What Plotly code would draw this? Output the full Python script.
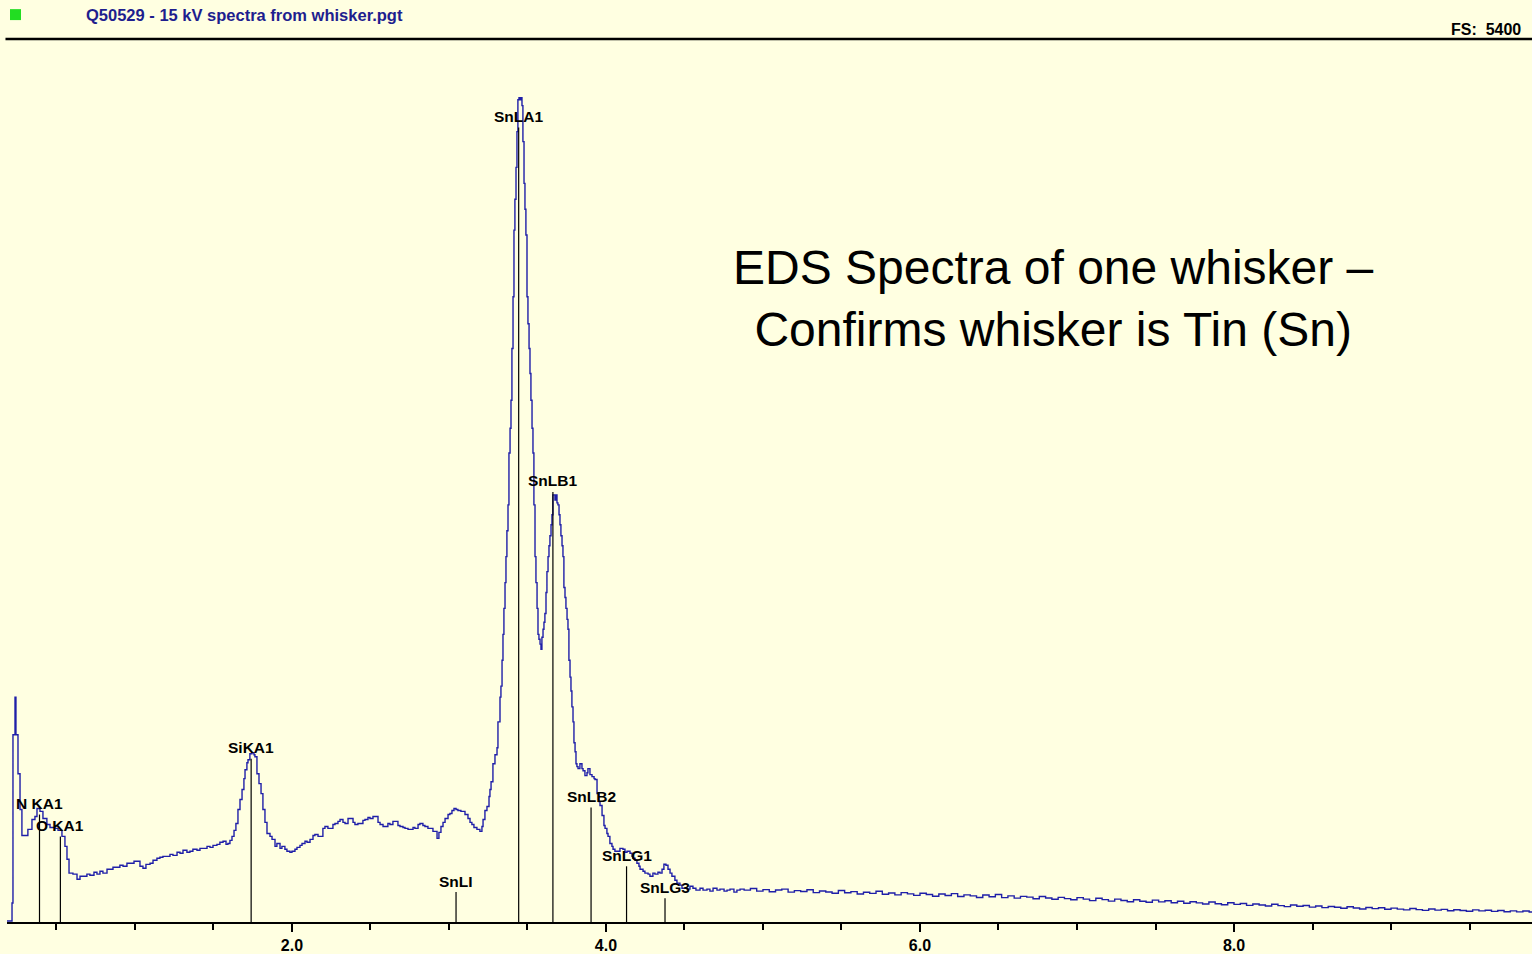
import plotly.graph_objects as go

# ---- spectrum (energy in keV, counts) ----
energy_kev = [
    0.185, 0.217, 0.223, 0.236, 0.242, 0.255, 0.268, 0.280, 0.318, 0.344,
    0.363, 0.376, 0.395, 0.414, 0.439, 0.459, 0.490, 0.510, 0.535, 0.554,
    0.567, 0.580, 0.605, 0.631, 0.650, 0.669, 0.694, 0.713, 0.739, 0.758,
    0.777, 0.796, 0.822, 0.841, 0.860, 0.885, 0.904, 0.924, 0.949, 0.968,
    0.994, 1.013, 1.032, 1.051, 1.070, 1.096, 1.115, 1.140, 1.159, 1.178,
    1.204, 1.223, 1.242, 1.268, 1.287, 1.306, 1.331, 1.350, 1.369, 1.395,
    1.414, 1.433, 1.459, 1.478, 1.497, 1.522, 1.541, 1.561, 1.580, 1.592,
    1.605, 1.618, 1.631, 1.643, 1.656, 1.669, 1.682, 1.694, 1.701, 1.713,
    1.720, 1.732, 1.745, 1.758, 1.764, 1.777, 1.790, 1.803, 1.815, 1.828,
    1.841, 1.860, 1.873, 1.892, 1.904, 1.924, 1.936, 1.955, 1.968, 1.987,
    2.000, 2.019, 2.032, 2.051, 2.064, 2.083, 2.096, 2.115, 2.134, 2.146,
    2.166, 2.178, 2.197, 2.210, 2.229, 2.242, 2.261, 2.274, 2.293, 2.306,
    2.325, 2.338, 2.357, 2.369, 2.389, 2.401, 2.420, 2.433, 2.452, 2.465,
    2.484, 2.497, 2.516, 2.529, 2.548, 2.561, 2.580, 2.592, 2.611, 2.624,
    2.643, 2.656, 2.675, 2.688, 2.707, 2.720, 2.739, 2.752, 2.771, 2.783,
    2.803, 2.815, 2.834, 2.847, 2.866, 2.879, 2.898, 2.911, 2.924, 2.936,
    2.949, 2.962, 2.975, 2.994, 3.006, 3.019, 3.032, 3.045, 3.057, 3.076,
    3.089, 3.102, 3.121, 3.134, 3.146, 3.159, 3.178, 3.197, 3.210, 3.217,
    3.229, 3.242, 3.255, 3.261, 3.268, 3.280, 3.293, 3.306, 3.312, 3.325,
    3.331, 3.338, 3.344, 3.350, 3.357, 3.363, 3.369, 3.376, 3.382, 3.389,
    3.395, 3.401, 3.408, 3.414, 3.420, 3.427, 3.433, 3.439, 3.446, 3.452,
    3.459, 3.465, 3.471, 3.478, 3.484, 3.490, 3.497, 3.503, 3.510, 3.516,
    3.522, 3.529, 3.535, 3.541, 3.548, 3.554, 3.561, 3.567, 3.573, 3.580,
    3.586, 3.592, 3.599, 3.605, 3.611, 3.618, 3.624, 3.631, 3.637, 3.643,
    3.650, 3.656, 3.662, 3.669, 3.675, 3.682, 3.688, 3.694, 3.701, 3.707,
    3.713, 3.720, 3.726, 3.732, 3.739, 3.745, 3.752, 3.758, 3.764, 3.771,
    3.777, 3.783, 3.790, 3.796, 3.803, 3.809, 3.815, 3.822, 3.834, 3.847,
    3.854, 3.866, 3.879, 3.885, 3.898, 3.911, 3.924, 3.930, 3.943, 3.955,
    3.962, 3.975, 3.987, 3.994, 4.006, 4.013, 4.025, 4.038, 4.045, 4.057,
    4.076, 4.089, 4.108, 4.121, 4.134, 4.153, 4.166, 4.172, 4.185, 4.197,
    4.210, 4.217, 4.236, 4.248, 4.268, 4.280, 4.299, 4.312, 4.331, 4.344,
    4.357, 4.369, 4.382, 4.395, 4.408, 4.420, 4.439, 4.452, 4.471, 4.484,
    4.503, 4.516, 4.535, 4.554, 4.573, 4.599, 4.618, 4.643, 4.662, 4.682,
    4.707, 4.726, 4.752, 4.771, 4.790, 4.815, 4.834, 4.854,
]
counts = [
    6, 116, 1146, 1377, 1146, 908, 689, 530, 567, 628,
    646, 695, 677, 634, 597, 579, 573, 561, 524, 463,
    384, 299, 293, 262, 280, 280, 293, 286, 305, 293,
    311, 299, 323, 323, 335, 335, 347, 341, 360, 360,
    372, 372, 341, 329, 353, 360, 378, 390, 396, 402,
    402, 414, 408, 427, 421, 439, 427, 433, 445, 439,
    451, 451, 463, 457, 469, 475, 488, 494, 475, 481,
    500, 524, 561, 603, 689, 750, 811, 878, 932, 975,
    993, 1030, 1036, 1024, 1012, 908, 847, 786, 689, 610,
    542, 524, 506, 463, 481, 451, 463, 445, 433, 427,
    433, 445, 457, 469, 481, 494, 488, 506, 530, 536,
    524, 524, 573, 585, 573, 573, 597, 603, 616, 628,
    610, 603, 634, 634, 610, 597, 603, 603, 622, 628,
    640, 634, 646, 646, 610, 597, 585, 585, 603, 597,
    616, 616, 591, 585, 579, 573, 567, 567, 579, 573,
    597, 603, 591, 585, 573, 573, 555, 555, 512, 549,
    585, 610, 634, 658, 664, 683, 695, 689, 683, 677,
    677, 658, 634, 610, 597, 579, 567, 555, 585, 628,
    683, 707, 768, 811, 859, 969, 1024, 1067, 1225, 1377,
    1444, 1603, 1761, 1920, 2078, 2237, 2395, 2554, 2871, 3023,
    3194, 3511, 3828, 4236, 4425, 4620, 4839, 5034, 5047, 5034,
    5047, 4998, 4778, 4522, 4364, 4206, 3828, 3663, 3511, 3358,
    3194, 3023, 2871, 2554, 2237, 2078, 1920, 1761, 1731, 1701,
    1670, 1743, 1792, 1835, 1889, 2017, 2145, 2237, 2304, 2365,
    2432, 2493, 2615, 2615, 2584, 2615, 2566, 2554, 2493, 2432,
    2365, 2304, 2237, 2048, 1987, 1920, 1853, 1792, 1603, 1499,
    1414, 1317, 1225, 1097, 1042, 969, 951, 939, 969, 939,
    926, 896, 914, 939, 902, 890, 878, 872, 786, 737,
    713, 652, 591, 573, 542, 524, 481, 463, 445, 433,
    433, 451, 445, 427, 433, 421, 402, 390, 378, 360,
    341, 323, 311, 299, 293, 280, 299, 293, 305, 299,
    323, 354, 347, 323, 299, 280, 256, 238, 226, 207,
    207, 201, 219, 207, 195, 207, 195, 201, 189, 207,
    195, 201, 189, 195, 201, 183, 195, 201,
]
tail_energy_kev = [
    4.88, 4.92, 4.96, 5.00, 5.04, 5.08, 5.12, 5.16, 5.20, 5.24,
    5.28, 5.32, 5.36, 5.40, 5.44, 5.48, 5.52, 5.56, 5.60, 5.64,
    5.68, 5.72, 5.76, 5.80, 5.84, 5.88, 5.92, 5.96, 6.00, 6.04,
    6.08, 6.12, 6.16, 6.20, 6.24, 6.28, 6.32, 6.36, 6.40, 6.44,
    6.48, 6.52, 6.56, 6.60, 6.64, 6.68, 6.72, 6.76, 6.80, 6.84,
    6.88, 6.92, 6.96, 7.00, 7.04, 7.08, 7.12, 7.16, 7.20, 7.24,
    7.28, 7.32, 7.36, 7.40, 7.44, 7.48, 7.52, 7.56, 7.60, 7.64,
    7.68, 7.72, 7.76, 7.80, 7.84, 7.88, 7.92, 7.96, 8.00, 8.04,
    8.08, 8.12, 8.16, 8.20, 8.24, 8.28, 8.32, 8.36, 8.40, 8.44,
    8.48, 8.52, 8.56, 8.60, 8.64, 8.68, 8.72, 8.76, 8.80, 8.84,
    8.88, 8.92, 8.96, 9.00, 9.04, 9.08, 9.12, 9.16, 9.20, 9.24,
    9.28, 9.32, 9.36, 9.40, 9.44, 9.48, 9.52, 9.56, 9.60, 9.64,
    9.68, 9.72, 9.76, 9.80, 9.84, 9.88, 9.92,
]
tail_counts = [
    195, 205, 189, 198, 185, 196, 201, 183, 192, 187,
    197, 180, 190, 184, 176, 193, 179, 186, 171, 182,
    175, 188, 170, 178, 166, 180, 172, 163, 176, 168,
    158, 171, 162, 174, 156, 166, 160, 150, 165, 155,
    168, 149, 160, 146, 157, 152, 142, 156, 147, 139,
    151, 143, 136, 149, 140, 131, 145, 137, 128, 140,
    132, 124, 136, 127, 121, 134, 123, 130, 118, 127,
    115, 124, 117, 110, 122, 112, 106, 118, 108, 113,
    102, 110, 104, 98, 109, 100, 94, 104, 96, 101,
    91, 98, 88, 95, 90, 84, 93, 86, 80, 89,
    82, 87, 78, 85, 79, 74, 83, 76, 71, 80,
    73, 77, 69, 75, 70, 66, 74, 68, 72, 65,
    70, 63, 68, 62, 67, 61, 65,
]

# ---- element line markers ----
line_names = ["N KA1", "O KA1", "SiKA1", "SnLI", "SnLA1", "SnLB1", "SnLB2", "SnLG1", "SnLG3"]
line_energy_kev = [0.392, 0.525, 1.740, 3.045, 3.444, 3.662, 3.905, 4.131, 4.376]
line_heights = [658, 524, 1000, 183, 4864, 2633, 701, 341, 146]

x_range = [0.185, 9.898]
full_scale = 5400
file_title = "Q50529 - 15 kV spectra from whisker.pgt"
fs_text = "FS:\u00a0\u00a05400"
note_text = "EDS Spectra of one whisker \u2013<br>Confirms whisker is Tin (Sn)"
tick_vals = [2, 4, 6, 8]
tick_text = ["2.0", "4.0", "6.0", "8.0"]

BG = "#FFFFE1"
W, H = 1532, 954
ML, MR, MT, MB = 7, 0, 40, 28
PW = W - ML - MR
PH = H - MT - MB


def px_to_paper_x(px):
    return (px - ML) / PW


def py_to_paper_y(py):
    return (H - MB - py) / PH


fig = go.Figure()
fig.add_trace(go.Scatter(
    x=energy_kev + tail_energy_kev,
    y=counts + tail_counts,
    mode="lines",
    line=dict(color="#1f1fa8", width=1.4, shape="hv"),
    hoverinfo="skip",
    showlegend=False,
))

shapes = []
annotations = []
for name, e, h in zip(line_names, line_energy_kev, line_heights):
    shapes.append(dict(type="line", xref="x", yref="y", x0=e, x1=e, y0=0, y1=h,
                       line=dict(color="black", width=1.2)))
    annotations.append(dict(x=e, y=h, xref="x", yref="y", text=f"<b>{name}</b>",
                            showarrow=False, yanchor="middle", xanchor="center", yshift=11,
                            font=dict(family="Liberation Sans, Arial", size=15.5, color="black")))

# header line
shapes.append(dict(type="line", xref="paper", yref="paper", x0=-0.001, x1=1,
                   y0=py_to_paper_y(39), y1=py_to_paper_y(39),
                   line=dict(color="black", width=2.5)))
# green square
shapes.append(dict(type="rect", xref="paper", yref="paper",
                   x0=px_to_paper_x(10), x1=px_to_paper_x(21),
                   y0=py_to_paper_y(20), y1=py_to_paper_y(9),
                   fillcolor="#22dd22", line=dict(width=0)))

annotations.append(dict(x=px_to_paper_x(84), y=py_to_paper_y(15), xref="paper", yref="paper",
                        text=f"<b>{file_title}</b>", showarrow=False, xanchor="left", yanchor="middle",
                        font=dict(family="Liberation Sans, Arial", size=16.5, color="#1e1e8e")))
annotations.append(dict(x=px_to_paper_x(1523), y=py_to_paper_y(29), xref="paper", yref="paper",
                        text=f"<b>{fs_text}</b>", showarrow=False, xanchor="right", yanchor="middle",
                        font=dict(family="Liberation Sans, Arial", size=16, color="black")))
annotations.append(dict(x=px_to_paper_x(1053), y=py_to_paper_y(300), xref="paper", yref="paper",
                        text=note_text, showarrow=False, xanchor="center", yanchor="middle",
                        align="center",
                        font=dict(family="Liberation Sans, Arial", size=48, color="black")))

fig.update_layout(
    width=W, height=H,
    margin=dict(l=ML, r=MR, t=MT, b=MB, pad=0),
    paper_bgcolor=BG, plot_bgcolor=BG,
    showlegend=False,
    shapes=shapes,
    annotations=annotations,
    xaxis=dict(
        range=x_range, tickmode="array", tickvals=tick_vals, ticktext=tick_text,
        ticks="outside", ticklen=8, tickwidth=1.5, tickcolor="black",
        showline=True, linecolor="black", linewidth=2,
        showgrid=False, zeroline=False, fixedrange=True,
        tickfont=dict(family="Liberation Sans, Arial", size=16, color="black", weight="bold"),
        minor=dict(dtick=0.5, tick0=0, ticks="outside", ticklen=6, tickwidth=1.5,
                   tickcolor="black", showgrid=False),
    ),
    yaxis=dict(range=[0, full_scale], visible=False, fixedrange=True),
)

fig.write_html(
    "out.html",
    config={"displayModeBar": False},
    post_script="document.body.style.margin='0';document.body.style.overflow='hidden';",
)
